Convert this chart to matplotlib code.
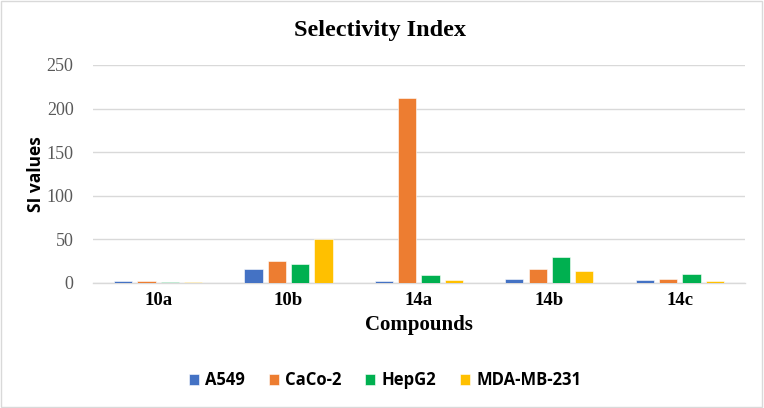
import matplotlib
matplotlib.use("Agg")
import matplotlib.pyplot as plt
import numpy as np
from matplotlib.patches import Rectangle

categories = ["10a", "10b", "14a", "14b", "14c"]
series_names = ["A549", "CaCo-2", "HepG2", "MDA-MB-231"]
a549 = [1.5, 16, 1.5, 4, 2.6]
caco2 = [1.5, 24.7, 212.4, 16, 3.8]
hepg2 = [0.8, 21.3, 8.5, 29, 9.8]
mda = [0.8, 50.6, 3.1, 13, 1.5]
yticks = [0, 50, 100, 150, 200, 250]
colors = ["#4472C4", "#ED7D31", "#00B050", "#FFC000"]

fig = plt.figure(figsize=(7.64, 4.08), dpi=100)
ax = fig.add_axes([0.1217, 0.307, 0.8533, 0.5337])

x = np.arange(len(categories))
pitch = 0.179
width = 0.14
data = [a549, caco2, hepg2, mda]
for i, (vals, name, c) in enumerate(zip(data, series_names, colors)):
    ax.bar(x + (i - 1.5) * pitch, vals, width, color=c, label=name,
           edgecolor="white", linewidth=0.4, zorder=3)

ax.set_xlim(-0.5, len(categories) - 0.5)
ax.set_ylim(0, 250)
ax.set_yticks(yticks)
ax.set_yticklabels([str(v) for v in yticks], family="Liberation Serif",
                   fontsize=13, color="#595959")
ax.set_xticks(x)
ax.set_xticklabels(categories, family="Liberation Serif", fontsize=13.5,
                   fontweight="bold", color="black")
ax.tick_params(axis="both", length=0, pad=7)
ax.tick_params(axis="y", pad=14)
ax.grid(axis="y", color="#D9D9D9", linewidth=1, zorder=0)
for s in ["top", "right", "left"]:
    ax.spines[s].set_visible(False)
ax.spines["bottom"].set_color("#D9D9D9")
ax.spines["bottom"].set_linewidth(1)

ax.set_xlabel("Compounds", family="Liberation Serif", fontsize=15,
              fontweight="bold", labelpad=4)
ax.set_ylabel("SI values", family="Open Sans", fontsize=12.5,
              fontweight="bold", va="center")
ax.yaxis.set_label_coords(-0.088, 0.5)
fig.text(0.497, 0.925, "Selectivity Index", family="Liberation Serif",
         fontsize=17.5, fontweight="bold", ha="center", va="center")

leg = fig.legend(loc="center", bbox_to_anchor=(0.504, 0.068), ncol=4,
                 frameon=False, prop={"family": "Open Sans", "weight": "bold",
                                      "size": 12},
                 handlelength=0.6, handleheight=0.6, handletextpad=0.4,
                 columnspacing=1.4)

fig.patches.append(Rectangle((0.001, 0.002), 0.997, 0.996, transform=fig.transFigure,
                             fill=False, edgecolor="#D9D9D9", linewidth=1))

fig.savefig("out.png", dpi=100)
